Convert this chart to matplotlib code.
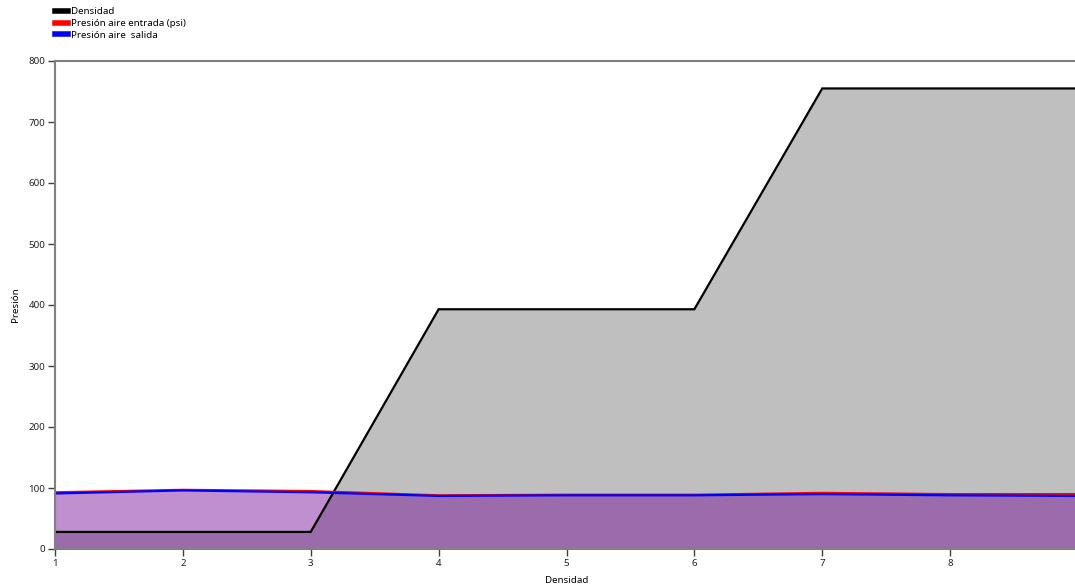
import matplotlib.pyplot as plt
from matplotlib.lines import Line2D

plt.rcParams["font.family"] = ["Noto Sans", "DejaVu Sans"]

# data
x = [1, 2, 3, 4, 5, 6, 7, 8, 9]
densidad = [28, 28, 28, 393, 393, 393, 755, 755, 755]
presion_entrada = [93, 97, 95, 88, 89, 89, 92, 90, 90]
presion_salida = [91, 96, 93, 87, 88, 88, 90, 88, 87]

series = [
    ("Densidad", densidad, "black"),
    ("Presión aire entrada (psi)", presion_entrada, "red"),
    ("Presión aire  salida", presion_salida, "blue"),
]

fig = plt.figure(figsize=(10.75, 5.86), dpi=100)
ax = fig.add_axes([55 / 1075, 1 - 549 / 586, (1078 - 55) / 1075, (549 - 61) / 586])

for name, vals, color in series:
    ax.fill_between(x, 0, vals, color=color, alpha=0.25, linewidth=0)
for name, vals, color in series:
    ax.plot(x, vals, color=color, linewidth=1.6, solid_joinstyle="miter")

ax.set_xlim(1, 9)
ax.set_ylim(0, 800)
ax.set_xticks(range(1, 9))
ax.set_yticks(range(0, 801, 100))

for side in ["left", "bottom", "top"]:
    ax.spines[side].set_color("#808080")
    ax.spines[side].set_linewidth(1.5)
ax.spines["right"].set_visible(False)
ax.tick_params(axis="both", direction="out", length=5, width=1, color="#404040",
               labelsize=7, labelcolor="#222222", pad=2)

ax.set_xlabel("Densidad", fontsize=7, labelpad=6)
ax.set_ylabel("Presión", fontsize=7, labelpad=6)

handles = [Line2D([0], [0], color=c, linewidth=4) for _, _, c in series]
labels = [n for n, _, _ in series]
fig.legend(handles, labels, loc="upper left", bbox_to_anchor=(0.046, 0.998),
           frameon=False, fontsize=7, handlelength=1.3, handletextpad=0.3,
           labelspacing=0.3, borderaxespad=0.2)

fig.savefig("out.png", dpi=100)
